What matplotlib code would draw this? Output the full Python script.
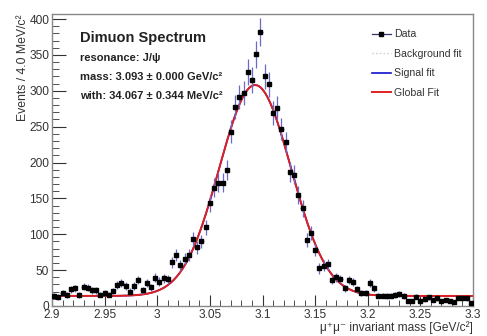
import numpy as np
import matplotlib
matplotlib.use("Agg")
import matplotlib.pyplot as plt
from matplotlib.ticker import MultipleLocator
from matplotlib.lines import Line2D

plt.rcParams['font.family'] = ['Liberation Sans', 'DejaVu Sans']

# ---- data ----
x_min, x_max, bin_width = 2.9, 3.3, 0.004
counts = [14, 12.5, 17.7, 15, 23, 24.6, 15, 27, 25.5, 22,
          22, 16, 18.6, 16, 21, 29, 31.6, 28, 20, 28,
          36, 22, 31.6, 26, 39.5, 34, 38.5, 37, 61, 71,
          57, 66, 71, 93, 82, 90, 110, 143, 165, 172,
          172, 190, 243, 277, 291, 297, 326, 315, 351, 382,
          320, 309, 269, 276, 247, 228, 187, 183, 155, 136,
          92, 102, 78, 52.5, 56, 58, 36, 40, 37.6, 24.6,
          36, 33, 23, 18.6, 18.6, 32.5, 24.6, 14.4, 14.4, 14,
          14.4, 15, 16.7, 14, 7, 7, 13, 7.4, 9.3, 12,
          8.4, 10.7, 7.4, 8.4, 7, 6, 11.6, 11.6, 10.7, 3.7]
# fit parameters
fit_mean = 3.093
fit_sigma = 0.034067
fit_amp = 294.0
fit_bkg = 14.0

counts = np.array(counts)
centers = x_min + bin_width * (np.arange(len(counts)) + 0.5)
errs = np.sqrt(counts)

fig = plt.figure(figsize=(4.87, 3.36), dpi=100)
ax = fig.add_axes([0.1068, 0.0893, 0.8645, 0.869])

xf = np.linspace(x_min, x_max, 600)
sig = fit_amp * np.exp(-0.5 * ((xf - fit_mean) / fit_sigma) ** 2)

ax.plot(xf, sig + fit_bkg, color='#1010cc', lw=1.2)
ax.plot(xf, sig + fit_bkg, color='#e02020', lw=1.4)
ax.errorbar(centers, counts, yerr=errs, xerr=bin_width / 2, fmt='none',
            ecolor='#6a6ac8', elinewidth=0.9, capsize=0, zorder=4)
ax.plot(centers, counts, 's', ms=3.2, color='black', zorder=5)

ax.set_xlim(x_min, x_max)
ax.set_ylim(0, 407)
ax.xaxis.set_major_locator(MultipleLocator(0.05))
ax.xaxis.set_minor_locator(MultipleLocator(0.01))
ax.yaxis.set_major_locator(MultipleLocator(50))
ax.yaxis.set_minor_locator(MultipleLocator(10))
ax.xaxis.set_major_formatter(matplotlib.ticker.FuncFormatter(lambda v, p: ('%g' % round(v, 3))))
ax.tick_params(which='both', direction='in', top=False, right=False, colors='#333333',
               labelsize=8.6)
ax.tick_params(axis='x', which='major', length=8, pad=2.5)
ax.tick_params(axis='x', which='minor', length=4)
ax.tick_params(axis='y', which='major', length=10, pad=2)
ax.tick_params(axis='y', which='minor', length=5)
for s in ax.spines.values():
    s.set_color('#888888')
    s.set_linewidth(1)

ax.set_ylabel('Events / 4.0 MeV/c²', fontsize=8.8, color='#333333', loc='top')
ax.yaxis.set_label_coords(-0.055, 1.0)
xl = ax.set_xlabel('μ⁺μ⁻ invariant mass [GeV/c²]', fontsize=8.6, color='#333333',
                   loc='right')
xl.set_va('bottom')
ax.xaxis.set_label_coords(1.0, -0.0945)

ax.text(0.066, 0.918, 'Dimuon Spectrum', transform=ax.transAxes, fontsize=10.5,
        fontweight='bold', color='#222222', va='center')
ax.text(0.066, 0.849, 'resonance: J/ψ', transform=ax.transAxes, fontsize=8,
        fontweight='bold', color='#222222', va='center')
ax.text(0.066, 0.784, 'mass: 3.093 ± 0.000 GeV/c²', transform=ax.transAxes, fontsize=8,
        fontweight='bold', color='#222222', va='center')
ax.text(0.066, 0.719, 'with: 34.067 ± 0.344 MeV/c²', transform=ax.transAxes, fontsize=8,
        fontweight='bold', color='#222222', va='center')

handles = [
    Line2D([], [], color='#34346e', marker='s', ms=3.2, mfc='black', mec='black', lw=0.9),
    Line2D([], [], color='#c8c8c8', ls=':', lw=1),
    Line2D([], [], color='#1010cc', lw=1.2),
    Line2D([], [], color='#e02020', lw=1.4),
]
labels = ['Data', 'Background fit', 'Signal fit', 'Global Fit']
leg = ax.legend(handles, labels, loc='upper left',
                bbox_to_anchor=(0.75, 0.962), frameon=False, fontsize=7.6,
                handlelength=1.8, labelspacing=0.9, handletextpad=0.3,
                borderaxespad=0)
for t in leg.get_texts():
    t.set_color('#333333')

fig.savefig('out.png', dpi=100)
